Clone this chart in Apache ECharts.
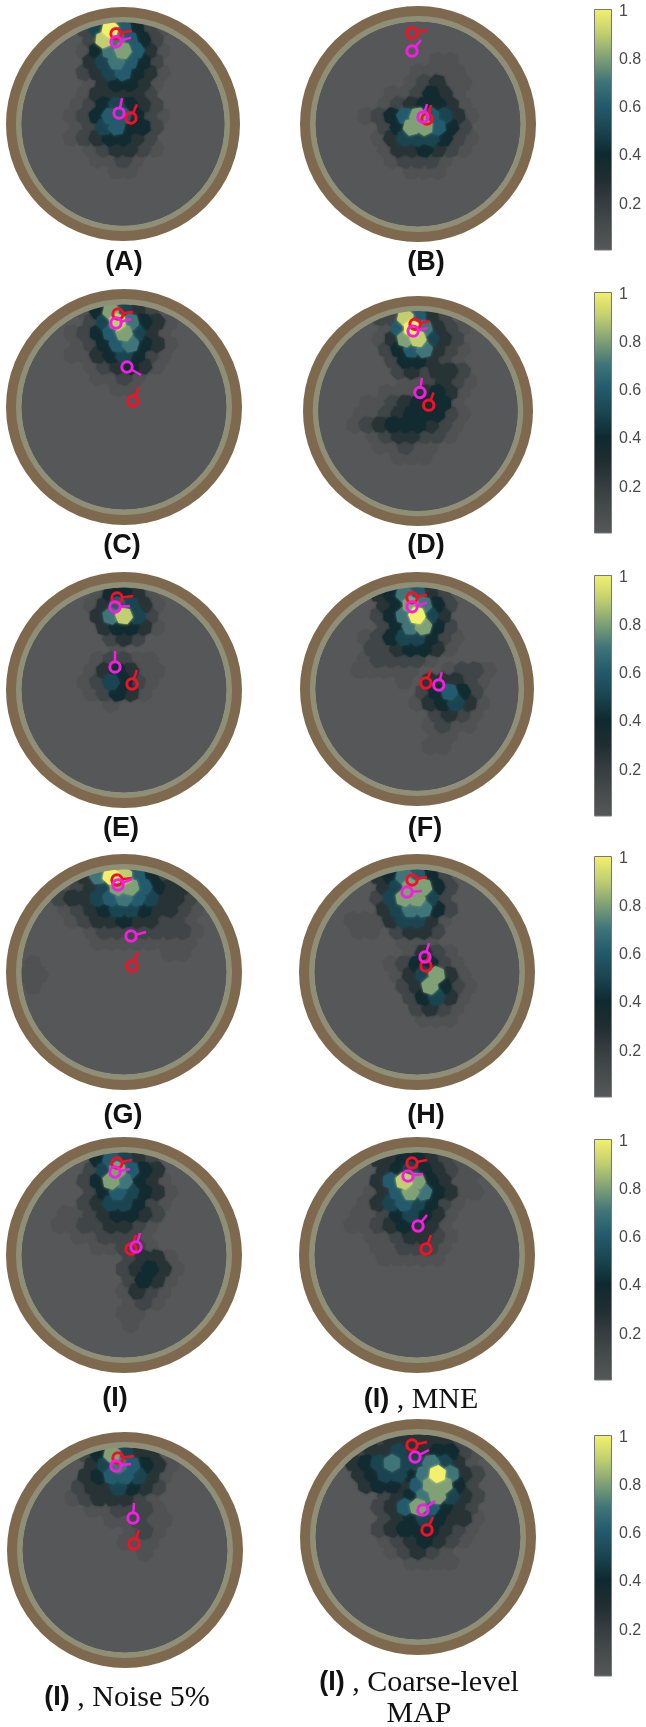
<!DOCTYPE html>
<html>
<head>
<meta charset="utf-8">
<title>Source maps</title>
<style>
    html, body { margin: 0; padding: 0; background: #fff; }
    #chart { width: 646px; height: 1727px; }
</style>
<script src="https://cdn.jsdelivr.net/npm/echarts@6/dist/echarts.min.js"></script>
</head>
<body>
<div id="chart"></div>
<script>
// Activity maps. Each row: [row, first column, level, level, ...]
// row 0 is the top of the head, levels index into levelValues
const levelValues = [0, 0.05, 0.14, 0.26, 0.38, 0.5, 0.6, 0.7, 0.8, 0.9, 1];

const cellsA = [
    [0, -3, 2, 5, 10, 6, 4, 2, 1],
    [1, -3, 2, 9, 7, 6, 4, 2],
    [2, -3, 1, 4, 7, 8, 6, 3, 1],
    [3, -3, 3, 5, 7, 6, 4, 2],
    [4, -3, 2, 3, 5, 6, 4, 3, 1],
    [5, -3, 1, 3, 4, 4, 3, 1],
    [6, -3, 1, 3, 3, 3, 3, 2],
    [7, -4, 1, 2, 4, 5, 4, 3, 2],
    [8, -4, 1, 2, 4, 6, 6, 4, 2, 1],
    [9, -4, 1, 2, 5, 6, 4, 4, 2],
    [10, -4, 1, 2, 3, 4, 4, 3, 2],
    [11, -3, 1, 2, 3, 3, 2, 1],
    [12, -2, 1, 1, 2, 1],
    [13, -1, 1, 1]
];
const cellsB = [
    [3, 1, 1, 1],
    [4, 0, 1, 1, 1, 1],
    [5, -1, 1, 2, 3, 1, 1],
    [6, -2, 1, 1, 2, 4, 3, 1],
    [7, -3, 1, 2, 3, 4, 4, 3, 1],
    [8, -4, 1, 2, 4, 6, 8, 6, 5, 3, 1],
    [9, -3, 2, 4, 8, 8, 6, 4, 2],
    [10, -3, 1, 3, 5, 5, 5, 4, 2, 1],
    [11, -3, 1, 3, 3, 4, 3, 2, 1],
    [12, -2, 1, 2, 2, 2, 1],
    [13, -1, 1, 1, 1]
];
const cellsC = [
    [0, -3, 1, 4, 8, 5, 3, 2],
    [1, -3, 2, 5, 9, 7, 4, 3, 1],
    [2, -4, 1, 2, 4, 6, 8, 5, 3, 1],
    [3, -4, 1, 2, 4, 6, 7, 4, 3, 1],
    [4, -4, 1, 1, 3, 4, 5, 4, 2, 1],
    [5, -3, 1, 2, 3, 4, 3, 1],
    [6, -2, 1, 1, 2, 1],
    [7, -1, 1, 1]
];
const cellsD = [
    [0, -3, 2, 2, 9, 6, 3, 2],
    [1, -3, 1, 6, 10, 7, 3, 2, 1],
    [2, -3, 1, 3, 8, 9, 5, 3, 2],
    [3, -3, 2, 4, 6, 7, 3, 2, 1],
    [4, -2, 2, 4, 4, 3, 2, 1],
    [5, -2, 2, 3, 2, 3, 3, 2],
    [6, -1, 1, 1, 2, 3, 2, 1],
    [7, -3, 1, 1, 1, 3, 4, 3, 1],
    [8, -4, 1, 1, 2, 3, 4, 4, 4, 1],
    [9, -5, 1, 1, 2, 3, 4, 4, 4, 2, 1],
    [10, -5, 1, 2, 3, 4, 4, 4, 3, 2, 1],
    [11, -4, 1, 2, 3, 3, 2, 2, 1],
    [12, -3, 1, 1, 2, 1, 1],
    [13, -2, 1, 1, 1]
];
const cellsE = [
    [0, -2, 1, 4, 4, 3, 1],
    [1, -3, 1, 3, 6, 5, 3, 1],
    [2, -2, 3, 7, 9, 5, 2],
    [3, -2, 3, 4, 4, 3, 1],
    [4, -1, 2, 3, 2],
    [5, -1, 1],
    [6, -2, 1, 2, 2, 1, 1],
    [7, -3, 1, 3, 4, 3, 1, 1],
    [8, -3, 1, 2, 5, 4, 2, 1],
    [9, -3, 1, 2, 4, 3, 1],
    [10, -1, 1]
];
const cellsF = [
    [0, -3, 3, 4, 7, 6, 3, 2],
    [1, -3, 3, 4, 8, 7, 4, 2],
    [2, -3, 2, 4, 7, 10, 5, 3],
    [3, -3, 2, 4, 7, 8, 4, 2],
    [4, -4, 1, 2, 4, 5, 5, 4, 2, 1],
    [5, -4, 2, 2, 3, 4, 4, 3, 1],
    [6, -4, 1, 2, 2, 2, 2, 1],
    [7, -5, 1, 1, 1, 1, 1, 0, 0, 1, 2, 2, 1],
    [8, -1, 1, 0, 3, 3, 3, 2, 1],
    [9, 0, 2, 4, 6, 4, 2],
    [10, 0, 1, 3, 4, 5, 3, 1],
    [11, 1, 2, 3, 2, 1],
    [12, 1, 1, 2, 1, 1],
    [13, 1, 1, 1],
    [14, 1, 1, 1]
];
const cellsG = [
    [0, -3, 3, 7, 10, 9, 6, 4, 2],
    [1, -5, 1, 2, 3, 5, 8, 8, 6, 4, 3, 3],
    [2, -5, 2, 3, 3, 5, 6, 7, 6, 5, 3, 3, 2],
    [3, -5, 1, 2, 3, 4, 5, 5, 4, 3, 3, 2, 1],
    [4, -4, 1, 2, 3, 3, 4, 3, 3, 2, 2, 1],
    [5, -3, 1, 2, 2, 2, 2, 2, 2, 2, 1],
    [6, -2, 1, 1, 1, 1, 1, 1, 1, 1],
    [7, 3, 1, 1],
    [8, -7, 1],
    [9, -8, 1, 1],
    [10, -7, 1]
];
const cellsH = [
    [0, -3, 3, 4, 7, 6, 4, 2],
    [1, -3, 3, 5, 8, 8, 4, 2],
    [2, -3, 2, 5, 8, 8, 5, 2],
    [3, -3, 3, 5, 7, 7, 4, 2],
    [4, -5, 1, 1, 1, 3, 5, 5, 3, 1],
    [5, -5, 1, 1, 0, 2, 3, 3, 2],
    [6, -1, 1, 1, 1],
    [7, -1, 1, 3, 2, 1],
    [8, -2, 1, 2, 4, 4, 2, 1],
    [9, -2, 1, 3, 5, 8, 3, 1],
    [10, -1, 2, 3, 8, 4, 2, 1],
    [11, -1, 2, 4, 5, 3, 1],
    [12, 0, 2, 3, 2, 1],
    [13, 0, 1, 1, 1]
];
const cellsI = [
    [0, -2, 4, 6, 5, 3, 2],
    [1, -3, 2, 5, 8, 6, 4, 3],
    [2, -3, 2, 4, 8, 7, 4, 3, 1],
    [3, -3, 2, 4, 6, 5, 4, 3, 1],
    [4, -3, 2, 3, 5, 5, 4, 2, 1],
    [5, -5, 1, 1, 2, 3, 4, 4, 3, 2],
    [6, -5, 1, 1, 2, 2, 3, 3, 2, 1],
    [7, -4, 1, 1, 2, 2, 2, 1],
    [8, -2, 1, 1, 2, 2, 1],
    [9, 0, 2, 3, 3, 1],
    [10, 0, 2, 3, 4, 3, 1],
    [11, 0, 2, 4, 3, 1],
    [12, 0, 1, 3, 2, 1],
    [13, 0, 1, 2, 1],
    [14, 0, 1, 1],
    [15, 0, 1]
];
const cellsMne = [
    [0, -3, 3, 3, 4, 4, 3, 2, 1],
    [1, -3, 3, 4, 5, 4, 3, 2, 1, 1],
    [2, -3, 3, 6, 9, 8, 4, 3, 1, 1],
    [3, -4, 1, 3, 6, 8, 7, 4, 3, 1, 1],
    [4, -4, 1, 3, 5, 6, 5, 4, 2, 1],
    [5, -5, 1, 1, 2, 4, 5, 4, 3, 1],
    [6, -5, 1, 1, 2, 3, 4, 3, 3, 1],
    [7, -4, 1, 1, 2, 3, 3, 2, 1],
    [8, -3, 1, 1, 2, 2, 2, 1],
    [9, -3, 1, 1, 1, 1, 1]
];
const cellsNoise = [
    [0, -3, 2, 4, 8, 5, 3, 3],
    [1, -3, 3, 5, 7, 6, 4, 3, 1],
    [2, -3, 3, 4, 6, 6, 5, 3, 1],
    [3, -4, 2, 3, 3, 5, 4, 3, 2],
    [4, -4, 1, 2, 3, 3, 3, 2, 1],
    [5, -3, 1, 1, 2, 2, 2, 1],
    [6, -1, 1, 1, 2, 1, 1],
    [7, 0, 1, 2, 1],
    [8, 0, 1, 1, 1],
    [9, 1, 1]
];
const cellsCoarse = [
    [0, -3, 2, 3, 3, 3, 3, 3, 2],
    [1, -5, 2, 3, 3, 5, 3, 3, 4, 4, 2, 1],
    [2, -5, 3, 4, 5, 7, 5, 5, 7, 5, 3, 1],
    [3, -5, 3, 4, 5, 5, 4, 7, 10, 7, 3, 2],
    [4, -4, 3, 4, 4, 3, 6, 8, 8, 4, 2],
    [5, -3, 2, 3, 4, 7, 8, 5, 3, 2],
    [6, -3, 2, 3, 6, 8, 6, 4, 3, 2],
    [7, -3, 2, 3, 4, 5, 4, 3, 3, 1],
    [8, -3, 2, 3, 4, 4, 4, 3, 2, 1],
    [9, -3, 1, 2, 3, 4, 3, 2, 1],
    [10, -2, 1, 2, 3, 2, 1],
    [11, -1, 1, 1, 1, 1]
];

// Dipoles: [x, y, stem x, stem y], y grows upward from the head centre
const redA = [[-7, 91, 16, 3], [8, 6, 6, 14]];
const magentaA = [[-7, 83, 15, 4], [-4, 11, 3, 15]];
const redB = [[-6, 91, 16, 3], [9, 5, 4, 14]];
const magentaB = [[-6, 73, 9, 11], [5, 7, 4, 13]];
const redC = [[-6, 93, 15, 2], [9, 6, 6, 14]];
const magentaC = [[-8, 84, 15, 4], [3, 40, 14, -8]];
const redD = [[-3, 89, 15, 3], [11, 6, 5, 13]];
const magentaD = [[-5, 82, 15, 3], [2, 19, 2, 15]];
const redE = [[-7, 92, 16, 2], [8, 6, 5, 14]];
const magentaE = [[-9, 83, 15, 1], [-9, 23, 0, 16]];
const redF = [[-5, 92, 15, 3], [9, 6, 5, 13]];
const magentaF = [[-5, 83, 15, 4], [22, 4, 3, 13]];
const redG = [[-7, 92, 15, 2], [8, 6, 6, 14]];
const magentaG = [[-6, 87, 14, 6], [7, 36, 15, 4]];
const redH = [[-5, 92, 15, 3], [9, 6, 3, 13]];
const magentaH = [[-10, 80, 15, 1], [8, 15, 4, 14]];
const redI = [[-7, 92, 15, 3], [7, 6, 5, 14]];
const magentaI = [[-9, 83, 15, 3], [12, 8, 4, 14]];
const redMne = [[-5, 92, 15, 3], [9, 6, 5, 14]];
const magentaMne = [[-9, 79, 15, 2], [1, 29, 9, 11]];
const redNoise = [[-7, 92, 16, 2], [9, 6, 5, 14]];
const magentaNoise = [[-9, 84, 15, 2], [8, 32, 1, 15]];
const redCoarse = [[-6, 92, 15, 3], [9, 7, 6, 13]];
const magentaCoarse = [[-3, 80, 14, 7], [5, 27, 12, 9]];

// Colour bar
const barTicks = [0.2, 0.4, 0.6, 0.8, 1];
const scaleColors = ['#565758', '#474b4c', '#353d3f', '#1f2d30', '#0e2a30', '#1a4550',
    '#235a6c', '#3f7478', '#80a176', '#c2cf70', '#f3f06c'];

// Head model: radii of the scalp and skull rings, brain disc
const ringRadii = [[107, 118], [102.5, 108]];
const discRadius = [[103]];

// Layout of the page
const panels = [
    { cells: cellsA, red: redA, magenta: magentaA, cx: 123, cy: 124, r: 117 },
    { cells: cellsB, red: redB, magenta: magentaB, cx: 418, cy: 124, r: 118 },
    { cells: cellsC, red: redC, magenta: magentaC, cx: 124, cy: 407, r: 118 },
    { cells: cellsD, red: redD, magenta: magentaD, cx: 418, cy: 411, r: 115 },
    { cells: cellsE, red: redE, magenta: magentaE, cx: 124, cy: 690, r: 118 },
    { cells: cellsF, red: redF, magenta: magentaF, cx: 417, cy: 689, r: 117 },
    { cells: cellsG, red: redG, magenta: magentaG, cx: 124, cy: 972, r: 118 },
    { cells: cellsH, red: redH, magenta: magentaH, cx: 417, cy: 972, r: 118 },
    { cells: cellsI, red: redI, magenta: magentaI, cx: 124, cy: 1255, r: 118 },
    { cells: cellsMne, red: redMne, magenta: magentaMne, cx: 417, cy: 1255, r: 118 },
    { cells: cellsNoise, red: redNoise, magenta: magentaNoise, cx: 125, cy: 1550, r: 118 },
    { cells: cellsCoarse, red: redCoarse, magenta: magentaCoarse, cx: 418, cy: 1537, r: 118 }
];
const barTops = [9, 292, 575, 856, 1139, 1435];
const labels = [
    ['{b|(A)}', 124, 262], ['{b|(B)}', 426, 262],
    ['{b|(C)}', 122, 545], ['{b|(D)}', 426, 545],
    ['{b|(E)}', 121, 828], ['{b|(F)}', 425, 828],
    ['{b|(G)}', 123, 1115], ['{b|(H)}', 426, 1115],
    ['{b|(I)}', 115, 1398], ['{b|(I)}{s| , MNE}', 421, 1398],
    ['{b|(I)}{s| , Noise 5%}', 127, 1696], ['{b|(I)}{s| , Coarse-level}', 419, 1681],
    ['{s|MAP}', 419, 1712]
];

// Cell rows to [x, y, value], brightest cells drawn last
function expandCells(rows) {
    const out = [];
    rows.forEach(row => {
        const k = row[0];
        row.slice(2).forEach((level, i) => {
            if (level > 0) {
                const x = 13 * (row[1] + i) + (k % 2 ? 6.5 : 0);
                out.push([x, 96 - 11 * k, levelValues[level]]);
            }
        });
    });
    return out.sort((a, b) => a[2] - b[2]);
}

// Irregular patch: the hexagon turns a little with its position
function renderCell(params, api) {
    const x = api.value(0);
    const y = api.value(1);
    const c = api.coord([x, y]);
    const r = api.size([1, 0])[0] * 9;
    const turn = (x * 0.37 + y * 0.61) % 1;
    const points = [];
    for (let i = 0; i < 6; i++) {
        const a = turn + i * Math.PI / 3;
        points.push([c[0] + r * Math.cos(a), c[1] + r * Math.sin(a)]);
    }
    const color = api.visual('color');
    return {
        type: 'polygon',
        shape: { points: points },
        style: { fill: color, shadowColor: color, shadowBlur: 3 }
    };
}

function renderDisc(color) {
    return (params, api) => {
        const c = api.coord([0, 0]);
        const r = api.size([1, 0])[0] * api.value(0);
        return { type: 'circle', shape: { cx: c[0], cy: c[1], r: r }, style: { fill: color } };
    };
}

function renderRing(colors) {
    return (params, api) => {
        const c = api.coord([0, 0]);
        const unit = api.size([1, 0])[0];
        return {
            type: 'ring',
            shape: { cx: c[0], cy: c[1], r0: unit * api.value(0), r: unit * api.value(1) },
            style: { fill: colors[params.dataIndex] }
        };
    };
}

function renderDipole(color) {
    return (params, api) => {
        const c = api.coord([api.value(0), api.value(1)]);
        const tip = api.coord([api.value(0) + api.value(2), api.value(1) + api.value(3)]);
        const len = Math.hypot(tip[0] - c[0], tip[1] - c[1]);
        const ux = (tip[0] - c[0]) / len;
        const uy = (tip[1] - c[1]) / len;
        return {
            type: 'group',
            children: [
                { type: 'circle', shape: { cx: c[0], cy: c[1], r: 5.2 },
                  style: { fill: 'none', stroke: color, lineWidth: 3 } },
                { type: 'line', shape: { x1: c[0] + ux * 5, y1: c[1] + uy * 5, x2: tip[0], y2: tip[1] },
                  style: { stroke: color, lineWidth: 2.5 } }
            ]
        };
    };
}

const grids = [];
const xAxes = [];
const yAxes = [];
const series = [];
const cellSeriesIndex = [];

panels.forEach((p, i) => {
    const half = 120 * p.r / 118;
    grids.push({ left: p.cx - half, top: p.cy - half, width: half * 2, height: half * 2 });
    xAxes.push({ type: 'value', gridIndex: i, min: -120, max: 120, show: false });
    yAxes.push({ type: 'value', gridIndex: i, min: -120, max: 120, show: false });
    const common = { type: 'custom', xAxisIndex: i, yAxisIndex: i, silent: true, animation: false, clip: false };
    series.push({ ...common, z: 2, data: discRadius, renderItem: renderDisc('#565758') });
    cellSeriesIndex.push(series.length);
    series.push({ ...common, z: 3, data: expandCells(p.cells), dimensions: ['x', 'y', 'v'],
        encode: { x: 0, y: 1 }, renderItem: renderCell });
    series.push({ ...common, z: 4, data: ringRadii, renderItem: renderRing(['#7f694e', '#8f8f78']) });
    series.push({ ...common, z: 5, data: p.red, renderItem: renderDipole('#f5102a') });
    series.push({ ...common, z: 6, data: p.magenta, renderItem: renderDipole('#f41ee0') });
});

const barGradient = new echarts.graphic.LinearGradient(0, 1, 0, 0,
    scaleColors.map((color, i) => ({ offset: i / 10, color: color })));

barTops.forEach(top => {
    const g = grids.length;
    grids.push({ left: 594, top: top, width: 18, height: 241 });
    xAxes.push({ type: 'category', gridIndex: g, data: [''], show: false });
    yAxes.push({
        type: 'value', gridIndex: g, position: 'right', min: 0.01, max: 1.01,
        splitLine: { show: false },
        axisLine: { show: false },
        axisTick: { show: true, inside: true, length: 2, customValues: barTicks, lineStyle: { color: '#555' } },
        axisLabel: {
            customValues: barTicks, margin: 7, color: '#4a4a4a', fontSize: 16,
            fontFamily: 'Liberation Sans', formatter: v => String(v)
        }
    });
    series.push({
        type: 'bar', xAxisIndex: g, yAxisIndex: g, data: [1.01], barWidth: '100%', silent: true, animation: false,
        itemStyle: { color: barGradient, borderColor: '#777', borderWidth: 1 }
    });
});

const chart = echarts.init(document.getElementById('chart'), null, { renderer: 'canvas' });
chart.setOption({
    animation: false,
    backgroundColor: '#fff',
    title: labels.map(item => ({
        text: item[0],
        left: item[1],
        top: item[2] - 13,
        padding: 0,
        textAlign: 'center',
        textStyle: {
            fontWeight: 'normal',
            rich: {
                b: { fontFamily: 'Liberation Sans', fontWeight: 'bold', fontSize: 27, color: '#111' },
                s: { fontFamily: 'Liberation Serif', fontWeight: 'normal', fontSize: 30, color: '#111' }
            }
        }
    })),
    grid: grids,
    xAxis: xAxes,
    yAxis: yAxes,
    visualMap: {
        show: false, type: 'continuous', seriesIndex: cellSeriesIndex, dimension: 2,
        min: 0, max: 1, inRange: { color: scaleColors }
    },
    series: series
});
</script>
</body>
</html>
